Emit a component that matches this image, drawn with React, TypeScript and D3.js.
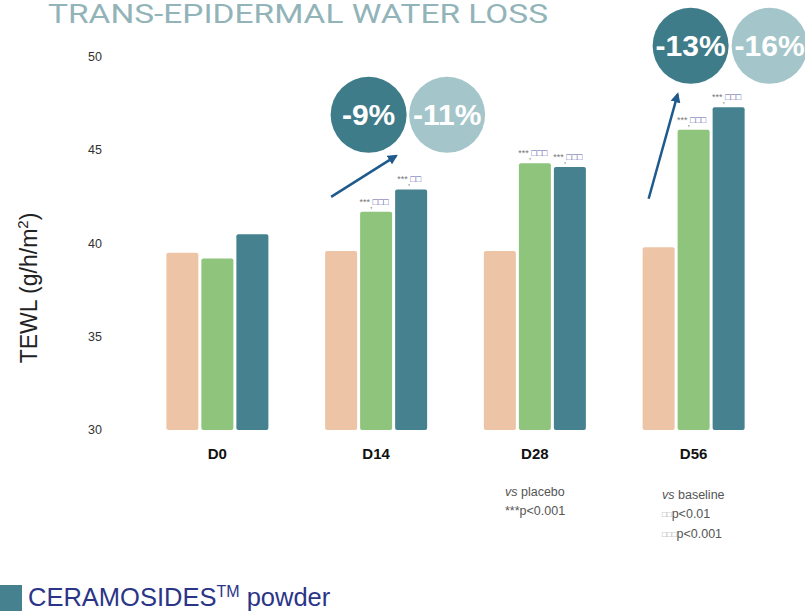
import React from "react";
import * as d3 from "d3";

const days = ["D0", "D14", "D28", "D56"];
const seriesNames = ["placebo", "formulaA", "ceramosides"];
const placebo = [39.5, 39.6, 39.6, 39.8];
const formulaA = [39.2, 41.7, 44.3, 46.1];
const ceramosides = [40.5, 42.9, 44.1, 47.3];
const yTicks = [30, 35, 40, 45, 50];
const colors = ["#EDC5A6", "#8FC47C", "#45818E"];

// annotations per series per day: [stars, squares]
const annotations: (string[] | null)[][] = [
  [null, null, null, null],
  [null, ["***", "□□□"], ["***", "□□□"], ["***", "□□□"]],
  [null, ["***", "□□"], ["***", "□□□"], ["***", "□□□"]],
];

const bubbleDays = ["D14", "D56"];
const bubbleDark = ["-9%", "-13%"];
const bubbleLight = ["-11%", "-16%"];
const bubbleLevel = [46.9, 50.6];
// arrows: [fromValue, toValue] at each bubble day
const arrowFrom = [42.5, 42.4];
const arrowTo = [44.7, 48.0];

export default function App() {
  const W = 805, H = 611;
  const y = d3.scaleLinear().domain([30, 50]).range([430, 57]);
  const x = d3.scaleBand<string>().domain(days).range([138, 773]).padding(0);
  const inner = d3.scaleBand<string>().domain(seriesNames).range([-51, 51]).paddingInner(0.086);
  const data = [placebo, formulaA, ceramosides];
  const cx = (d: string) => (x(d) as number) + x.bandwidth() / 2;
  const darkOff = [-7.5, -3];
  const lightOff = [71, 76];
  const tipOff = [20, -16];

  return (
    <svg width={W} height={H} style={{ position: "absolute", left: 0, top: 0, background: "#fff" }}
      fontFamily="Liberation Sans, Arial, sans-serif">
      <defs>
        <marker id="ah" viewBox="0 0 10 10" refX="8" refY="5" markerWidth="4" markerHeight="4" orient="auto">
          <path d="M0,0 L10,5 L0,10 z" fill="#1E5A8C" />
        </marker>
      </defs>
      <text x={48} y={23} fontSize={26} fill="#92B4B9" textLength={500} lengthAdjust="spacingAndGlyphs"
        fontFamily="Liberation Sans Narrow, Roboto, sans-serif">TRANS-EPIDERMAL WATER LOSS</text>

      {yTicks.map((t) => (
        <text key={t} x={95} y={y(t)} fontSize={12.5} fill="#333" textAnchor="middle" dominantBaseline="central">{t}</text>
      ))}
      <text transform={`translate(37,288) rotate(-90)`} fontSize={23} fill="#222" textAnchor="middle">
        TEWL (g/h/m<tspan dy={-9} fontSize={15}>2</tspan><tspan dy={9}>)</tspan>
      </text>

      {data.map((vals, si) =>
        vals.map((v, di) => {
          const bx = cx(days[di]) + (inner(seriesNames[si]) as number);
          return (
            <rect key={`${si}-${di}`} x={bx} y={y(v)} width={inner.bandwidth()} height={y(30) - y(v)}
              fill={colors[si]} rx={2} />
          );
        })
      )}

      {annotations.map((row, si) =>
        row.map((a, di) => {
          if (!a) return null;
          const v = data[si][di];
          const bx = cx(days[di]) + (inner(seriesNames[si]) as number) + inner.bandwidth() / 2 - 2;
          return (
            <text key={`a${si}-${di}`} x={bx} y={y(v) - 7} fontSize={9} textAnchor="middle">
              <tspan fill="#777">{a[0]}</tspan>
              <tspan fill="#777" dy={3}>,</tspan>
              <tspan fill="#5A5AA8" dy={-3}>{a[1]}</tspan>
            </text>
          );
        })
      )}

      {days.map((d) => (
        <text key={d} x={cx(d)} y={453} fontSize={15} fontWeight="bold" fill="#111" textAnchor="middle"
          dominantBaseline="central">{d}</text>
      ))}

      {bubbleDays.map((d, i) => {
        const c = cx(d);
        const cy = y(bubbleLevel[i]);
        const tailX = c - 45, tipX = c + tipOff[i];
        return (
          <g key={d}>
            <line x1={tailX} y1={y(arrowFrom[i])} x2={tipX} y2={y(arrowTo[i])} stroke="#1E5A8C" strokeWidth={2.5}
              markerEnd="url(#ah)" />
            <circle cx={c + darkOff[i]} cy={cy} r={38} fill="#3F7C89" />
            <circle cx={c + lightOff[i]} cy={cy} r={38} fill="#A4C6CA" />
            <text x={c + darkOff[i]} y={cy} fontSize={30} fontWeight="bold" fill="#fff" textAnchor="middle" dominantBaseline="central">{bubbleDark[i]}</text>
            <text x={c + lightOff[i]} y={cy} fontSize={30} fontWeight="bold" fill="#fff" textAnchor="middle" dominantBaseline="central">{bubbleLight[i]}</text>
          </g>
        );
      })}

      <g fontSize={12.5} fill="#555">
        <text x={505} y={492} dominantBaseline="central"><tspan fontStyle="italic">vs</tspan> placebo</text>
        <text x={505} y={511} dominantBaseline="central">***p&lt;0.001</text>
        <text x={662} y={495} dominantBaseline="central"><tspan fontStyle="italic">vs</tspan> baseline</text>
        <text x={662} y={514} dominantBaseline="central"><tspan fontSize={8} fill="#999">□□</tspan>p&lt;0.01</text>
        <text x={662} y={534} dominantBaseline="central"><tspan fontSize={8} fill="#999">□□□</tspan>p&lt;0.001</text>
      </g>

      <rect x={0} y={585} width={22} height={26} fill="#45818E" />
      <text x={28} y={606} fontSize={25.5} fill="#2B3588">
        CERAMOSIDES<tspan dy={-9} fontSize={16}>TM</tspan><tspan dy={9}> powder</tspan>
      </text>
    </svg>
  );
}
